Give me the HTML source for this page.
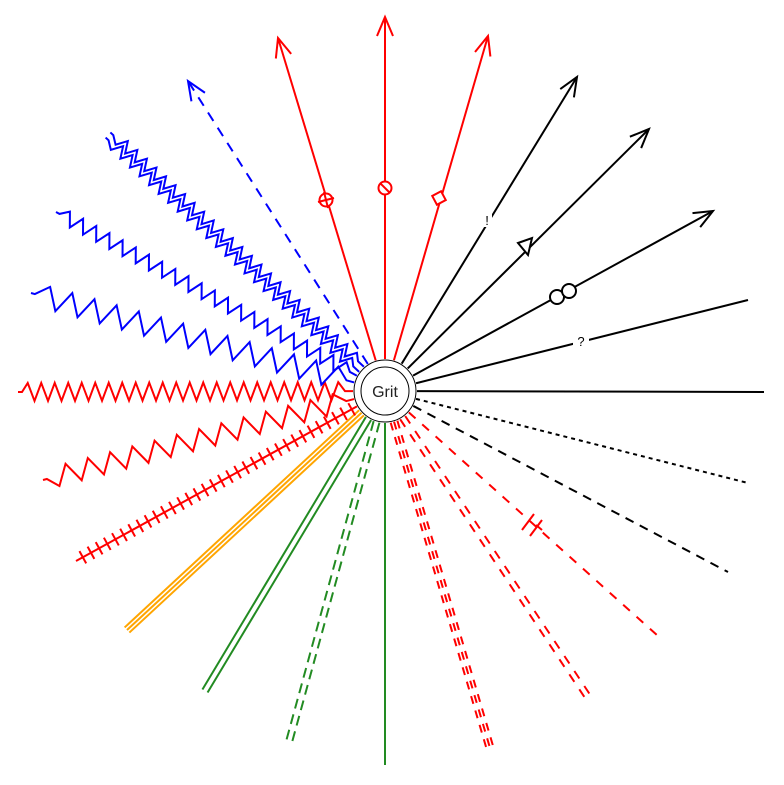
<!DOCTYPE html>
<html><head><meta charset="utf-8"><style>body{margin:0;background:#fff}svg{display:block}</style></head>
<body>
<svg id="s" width="784" height="785" viewBox="0 0 784 785" xmlns="http://www.w3.org/2000/svg" font-family="Liberation Sans, DejaVu Sans, sans-serif">
<g id="g" fill="none" stroke-width="2"></g>
<circle cx="385" cy="391" r="31" fill="#fff" stroke="#000" stroke-width="1"/>
<circle cx="385" cy="391" r="24" fill="none" stroke="#000" stroke-width="1"/>
<text x="385" y="397" text-anchor="middle" font-size="16" fill="#222">Grit</text>
</svg>
<script>
var C=[385,391],R=32,g=document.getElementById('g'),NS='http://www.w3.org/2000/svg';
function el(t,a){var e=document.createElementNS(NS,t);for(var k in a)e.setAttribute(k,a[k]);g.appendChild(e);return e;}
function dir(x,y){var dx=x-C[0],dy=y-C[1],L=Math.hypot(dx,dy);return [dx/L,dy/L,L];}
function start(x,y){var d=dir(x,y);return [C[0]+d[0]*R,C[1]+d[1]*R];}
function line(x,y,col,extra,off){var d=dir(x,y),s=start(x,y),o=off||0,nx=-d[1]*o,ny=d[0]*o;
 var a={x1:s[0]+nx,y1:s[1]+ny,x2:x+nx,y2:y+ny,stroke:col};for(var k in extra)a[k]=extra[k];return el('line',a);}
function arrow(x,y,col){var d=dir(x,y),l=19,w=8,bx=x-d[0]*l,by=y-d[1]*l;
 el('path',{d:'M'+(bx-d[1]*w)+','+(by+d[0]*w)+'L'+x+','+y+'L'+(bx+d[1]*w)+','+(by-d[0]*w),stroke:col});}
function zig(x,y,col,per,amp,off){var d=dir(x,y),s=start(x,y),L=Math.hypot(x-s[0],y-s[1]),o=off||0;
 var nx=-d[1],ny=d[0],p='M'+(s[0]+nx*o)+','+(s[1]+ny*o),t=8,i=0;
 p+='L'+(s[0]+d[0]*t+nx*o)+','+(s[1]+d[1]*t+ny*o);
 while(t+per/2<L-8){t+=per/2;var sg=(i%2?-1:1)*amp;i++;p+='L'+(s[0]+d[0]*t+nx*(sg+o))+','+(s[1]+d[1]*t+ny*(sg+o));}
 p+='L'+(x-d[0]*4+nx*o)+','+(y-d[1]*4+ny*o)+'L'+(x+nx*o)+','+(y+ny*o);el('path',{d:p,stroke:col,'stroke-linejoin':'miter'});}
line(385,17,'red');arrow(385,17,'red');
el('circle',{cx:385,cy:188,r:6.5,stroke:'red',fill:'#fff'});el('line',{x1:380,y1:183,x2:390,y2:193,stroke:'red'});
line(278,38,'red');arrow(278,38,'red');
el('circle',{cx:326,cy:200,r:6.5,stroke:'red',fill:'#fff'});el('line',{x1:318,y1:202,x2:334,y2:198,stroke:'red'});el('line',{x1:324,y1:192,x2:328,y2:208,stroke:'red'});
line(488,36,'red');arrow(488,36,'red');
el('rect',{x:-5,y:-5,width:10,height:10,stroke:'red',fill:'#fff',transform:'translate(439,198) rotate(62)'});
line(577,77,'#000');arrow(577,77,'#000');el('rect',{x:482,y:213,width:10,height:14,fill:'#fff',stroke:'none'});
el('text',{x:487,y:225,'text-anchor':'middle','font-size':13,fill:'#000',stroke:'none'}).textContent='!';
line(649,129,'#000');arrow(649,129,'#000');
el('path',{d:'M518,243 L532,238 L528,255 Z',stroke:'#000',fill:'#fff'});
line(713,211,'#000');arrow(713,211,'#000');
el('circle',{cx:557,cy:297,r:7,stroke:'#000',fill:'#fff'});el('circle',{cx:569,cy:291,r:7,stroke:'#000',fill:'#fff'});
line(748,300,'#000');el('rect',{x:573,y:333,width:16,height:16,fill:'#fff',stroke:'none'});
el('text',{x:581,y:346,'text-anchor':'middle','font-size':13,fill:'#000',stroke:'none'}).textContent='?';
line(764,392,'#000');
line(748,483,'#000',{'stroke-dasharray':'4 4'});
line(728,572,'#000',{'stroke-dasharray':'9 7'});
line(658,636,'red',{'stroke-dasharray':'9 9'});
el('line',{x1:522,y1:530,x2:534,y2:514,stroke:'red'});el('line',{x1:530,y1:536,x2:542,y2:520,stroke:'red'});el('line',{x1:536,y1:525,x2:542,y2:530,stroke:'red'});
line(590,700,'red',{'stroke-dasharray':'9 9'},-3);line(590,700,'red',{'stroke-dasharray':'9 9'},3);
line(490,748,'red',{'stroke-dasharray':'8 7'},-3.5);line(490,748,'red',{'stroke-dasharray':'8 7'},0);line(490,748,'red',{'stroke-dasharray':'8 7'},3.5);
line(385,765,'#228b22');
line(289,742,'#228b22',{'stroke-dasharray':'10 6'},-3);line(289,742,'#228b22',{'stroke-dasharray':'10 6'},3);
line(205,691,'#228b22',{},-3);line(205,691,'#228b22',{},3);
line(127,630,'orange',{},-3.5);line(127,630,'orange',{},0);line(127,630,'orange',{},3.5);
(function(){var x=76,y=561;line(x,y,'red');var d=dir(x,y),s=start(x,y),L=Math.hypot(x-s[0],y-s[1]);
 for(var t=6;t<L-4;t+=9.3){var px=s[0]+d[0]*t,py=s[1]+d[1]*t;el('line',{x1:px-d[1]*7,y1:py+d[0]*7,x2:px+d[1]*7,y2:py-d[0]*7,stroke:'red'});}})();
zig(43,480,'red',23,10);
zig(18,392,'red',13.5,9);
zig(31,293,'blue',23,11);
zig(56,212,'blue',15,7);
zig(108,135,'blue',13,5.5,-3.5);zig(108,135,'blue',13,5.5,3.5);
line(188,81,'blue',{'stroke-dasharray':'10 8'});arrow(188,81,'blue');
</script>
</body></html>
